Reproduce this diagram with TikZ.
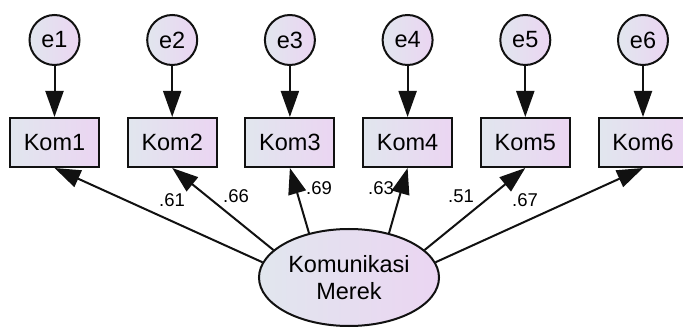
\documentclass[tikz,border=0pt]{standalone}
\usepackage{fontspec}
\setmainfont{Liberation Sans}
\usetikzlibrary{shapes.geometric,arrows.meta}
\definecolor{fillA}{HTML}{E1E6EE}
\definecolor{fillB}{HTML}{EBD5F2}
\definecolor{edge}{HTML}{111111}
\begin{document}
\begin{tikzpicture}[x=1pt,y=-1pt,
  shade/.style={left color=fillA, right color=fillB, draw=edge, line width=2pt},
  obsbox/.style={shade, rectangle, minimum width=89pt, minimum height=49pt, inner sep=0pt, font=\fontsize{23.5}{28}\selectfont},
  errc/.style={shade, circle, minimum size=50pt, inner sep=0pt, font=\fontsize{23.5}{28}\selectfont},
  latent/.style={shade, ellipse, minimum width=180pt, minimum height=97pt, inner sep=0pt, align=center, font=\fontsize{23.5}{27}\selectfont},
  patharrow/.style={draw=edge, line width=2pt, -{Triangle[length=26pt,width=18pt]}},
  coef/.style={inner sep=0pt, font=\fontsize{18.5}{22}\selectfont}
]
\clip (0,0) rectangle (683,331);
\foreach \i in {1,...,6} {
  \pgfmathsetmacro{\cx}{54.5+117.7*(\i-1)}
  \node[errc] (e\i) at (\cx,40) {e\i};
  \node[obsbox] (k\i) at (\cx,142.5) {Kom\i};
  \draw[patharrow] (e\i) -- (k\i);
}
\node[latent] (lat) at (349,277.5) {Komunikasi\\Merek};
\draw[patharrow] (lat.170) -- (k1.south);
\draw[patharrow] (lat.160) -- (k2.south);
\draw[patharrow] (lat.132) -- (k3.south);
\draw[patharrow] (lat.48) -- (k4.south);
\draw[patharrow] (lat.20) -- (k5.south);
\draw[patharrow] (lat.10) -- (k6.south);
\node[coef] (c1) at (172,200) {.61};
\node[coef] (c2) at (236,196) {.66};
\node[coef] (c3) at (319,188) {.69};
\node[coef] (c4) at (381,188) {.63};
\node[coef] (c5) at (461,196) {.51};
\node[coef] (c6) at (525,200) {.67};
\end{tikzpicture}
\end{document}
